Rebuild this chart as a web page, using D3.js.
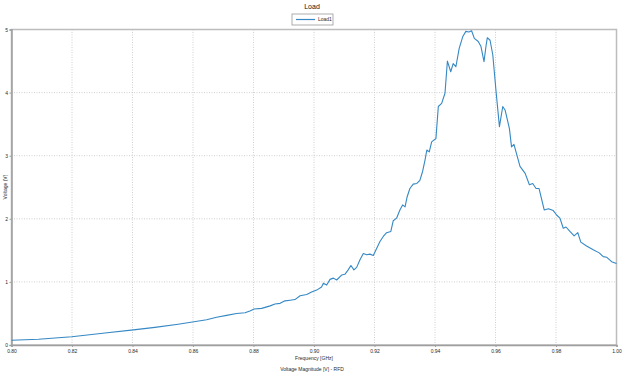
<!DOCTYPE html>
<html>
<head>
<meta charset="utf-8">
<script src="https://cdn.jsdelivr.net/npm/d3@7"></script>
<style>
    body { margin: 0; background: #fff; }
    #result { width: 624px; height: 375px; }
    text { font-family: 'Liberation Sans', Arial, sans-serif; fill: #2a2a2a; }
</style>
</head>
<body>
<div id="result"></div>
<script>
// values
const freq = [0.8000, 0.8089, 0.8199, 0.8309, 0.8403, 0.8474, 0.8551, 0.8645, 0.8678, 0.8711,
    0.8744, 0.8772, 0.8788, 0.8802, 0.8827, 0.8855, 0.8871, 0.8888, 0.8904, 0.8921,
    0.8937, 0.8954, 0.8976, 0.8992, 0.9009, 0.9025, 0.9031, 0.9042, 0.9053, 0.9064,
    0.9075, 0.9092, 0.9102, 0.9113, 0.9122, 0.9132, 0.9141, 0.9152, 0.9163, 0.9174,
    0.9185, 0.9196, 0.9207, 0.9218, 0.9229, 0.9240, 0.9254, 0.9262, 0.9273, 0.9284,
    0.9293, 0.9301, 0.9308, 0.9317, 0.9328, 0.9340, 0.9350, 0.9359, 0.9367, 0.9373,
    0.9381, 0.9389, 0.9397, 0.9403, 0.9411, 0.9422, 0.9433, 0.9441, 0.9452, 0.9460,
    0.9469, 0.9480, 0.9492, 0.9502, 0.9512, 0.9521, 0.9530, 0.9543, 0.9552, 0.9562,
    0.9569, 0.9573, 0.9582, 0.9591, 0.9602, 0.9613, 0.9624, 0.9632, 0.9646, 0.9653,
    0.9661, 0.9681, 0.9698, 0.9712, 0.9723, 0.9734, 0.9744, 0.9761, 0.9775, 0.9791,
    0.9802, 0.9813, 0.9824, 0.9833, 0.9846, 0.9860, 0.9872, 0.9882, 0.9901, 0.9923,
    0.9943, 0.9956, 0.9968, 0.9984, 1.0000];
const voltage = [0.075, 0.09, 0.13, 0.19, 0.24, 0.28, 0.33, 0.40, 0.44, 0.47,
    0.50, 0.51, 0.54, 0.57, 0.58, 0.62, 0.65, 0.66, 0.70, 0.71,
    0.72, 0.78, 0.80, 0.84, 0.87, 0.92, 0.98, 0.95, 1.04, 1.06,
    1.03, 1.11, 1.12, 1.19, 1.26, 1.19, 1.23, 1.35, 1.45, 1.43,
    1.44, 1.42, 1.53, 1.64, 1.72, 1.78, 1.80, 1.97, 2.01, 2.14,
    2.22, 2.19, 2.35, 2.48, 2.55, 2.56, 2.61, 2.75, 2.93, 3.09,
    3.06, 3.22, 3.25, 3.27, 3.78, 3.83, 3.99, 4.50, 4.33, 4.46,
    4.41, 4.70, 4.89, 4.97, 4.96, 4.98, 4.86, 4.81, 4.73, 4.49,
    4.75, 4.87, 4.83, 4.60, 4.01, 3.46, 3.78, 3.72, 3.43, 3.14,
    3.18, 2.83, 2.72, 2.54, 2.56, 2.48, 2.48, 2.14, 2.16, 2.13,
    2.06, 2.01, 1.85, 1.87, 1.80, 1.73, 1.78, 1.63, 1.57, 1.51,
    1.46, 1.40, 1.39, 1.32, 1.29];
const xTicks = [0.80, 0.82, 0.84, 0.86, 0.88, 0.90, 0.92, 0.94, 0.96, 0.98, 1.00];
const yTicks = [0, 1, 2, 3, 4, 5];
const seriesName = 'Load1';

const width = 624;
const height = 375;
const margin = { top: 29.5, bottom: 30, left: 11.5, right: 7.5 };
const innerWidth = width - margin.left - margin.right;
const innerHeight = height - margin.top - margin.bottom;
const lineColor = '#3588c4';
const fontFamily = "'Liberation Sans', Arial, sans-serif";

const svg = d3.select('#result')
    .append('svg')
    .attr('width', width)
    .attr('height', height);

const xScale = d3.scaleLinear()
    .domain([0.80, 1.00])
    .range([0, innerWidth]);

const yScale = d3.scaleLinear()
    .domain([0, 5])
    .range([innerHeight, 0]);

const g = svg.append('g')
    .attr('transform', `translate(${margin.left}, ${margin.top})`);

// dotted grid lines
g.append('g')
    .selectAll('line')
    .data(xTicks.slice(1, -1))
    .enter()
    .append('line')
        .attr('x1', d => xScale(d))
        .attr('x2', d => xScale(d))
        .attr('y1', 0)
        .attr('y2', innerHeight)
        .attr('stroke', '#c4c4c4')
        .attr('stroke-width', 0.8)
        .attr('stroke-dasharray', '1,1.5');

g.append('g')
    .selectAll('line')
    .data(yTicks.slice(1, -1))
    .enter()
    .append('line')
        .attr('x1', 0)
        .attr('x2', innerWidth)
        .attr('y1', d => yScale(d))
        .attr('y2', d => yScale(d))
        .attr('stroke', '#c4c4c4')
        .attr('stroke-width', 0.8)
        .attr('stroke-dasharray', '1,1.5');

// frame around the plot area
g.append('rect')
    .attr('x', 0)
    .attr('y', 0)
    .attr('width', innerWidth)
    .attr('height', innerHeight)
    .attr('fill', 'none')
    .attr('stroke', '#bdbdbd')
    .attr('stroke-width', 1.5);

// axes
const xAxis = d3.axisBottom(xScale)
    .tickValues(xTicks)
    .tickFormat(d3.format('.2f'))
    .tickSize(2)
    .tickPadding(2);

const yAxis = d3.axisLeft(yScale)
    .tickValues(yTicks)
    .tickFormat(d3.format('d'))
    .tickSize(2)
    .tickPadding(1.5);

const xAxisG = g.append('g')
    .attr('transform', `translate(0, ${innerHeight})`)
    .call(xAxis);

const yAxisG = g.append('g')
    .call(yAxis);

for (const ax of [xAxisG, yAxisG]) {
    ax.attr('font-size', 5).attr('font-family', fontFamily);
    ax.select('.domain').attr('stroke', '#9e9e9e').attr('stroke-width', 1.5);
    ax.selectAll('.tick line').attr('stroke', '#9e9e9e');
    ax.selectAll('.tick text').attr('fill', '#2a2a2a');
}

// the curve
const data = d3.zip(freq, voltage);

const line = d3.line()
    .x(d => xScale(d[0]))
    .y(d => yScale(d[1]));

g.append('path')
    .datum(data)
    .attr('fill', 'none')
    .attr('stroke', lineColor)
    .attr('stroke-width', 1.1)
    .attr('stroke-linejoin', 'round')
    .attr('d', line);

// title and labels
svg.append('text')
    .attr('x', 312)
    .attr('y', 8.5)
    .attr('text-anchor', 'middle')
    .attr('font-size', 7)
    .style('fill', '#111')
    .text('Load');

svg.append('text')
    .attr('x', 314)
    .attr('y', 359.5)
    .attr('text-anchor', 'middle')
    .attr('font-size', 5)
    .text('Frequency [GHz]');

svg.append('text')
    .attr('x', 312)
    .attr('y', 371)
    .attr('text-anchor', 'middle')
    .attr('font-size', 5)
    .text('Voltage Magnitude [V] - RFD');

svg.append('text')
    .attr('transform', 'translate(6.5, 187) rotate(-90)')
    .attr('text-anchor', 'middle')
    .attr('font-size', 5)
    .text('Voltage (V)');

// legend box
const legend = svg.append('g')
    .attr('transform', 'translate(292, 14)');

legend.append('rect')
    .attr('width', 41)
    .attr('height', 11)
    .attr('fill', '#fff')
    .attr('stroke', '#9a9a9a')
    .attr('stroke-width', 0.8);

legend.append('line')
    .attr('x1', 4)
    .attr('x2', 23)
    .attr('y1', 5.5)
    .attr('y2', 5.5)
    .attr('stroke', lineColor)
    .attr('stroke-width', 1.2);

legend.append('text')
    .attr('x', 26)
    .attr('y', 7.3)
    .attr('font-size', 5)
    .text(seriesName);
</script>
</body>
</html>
